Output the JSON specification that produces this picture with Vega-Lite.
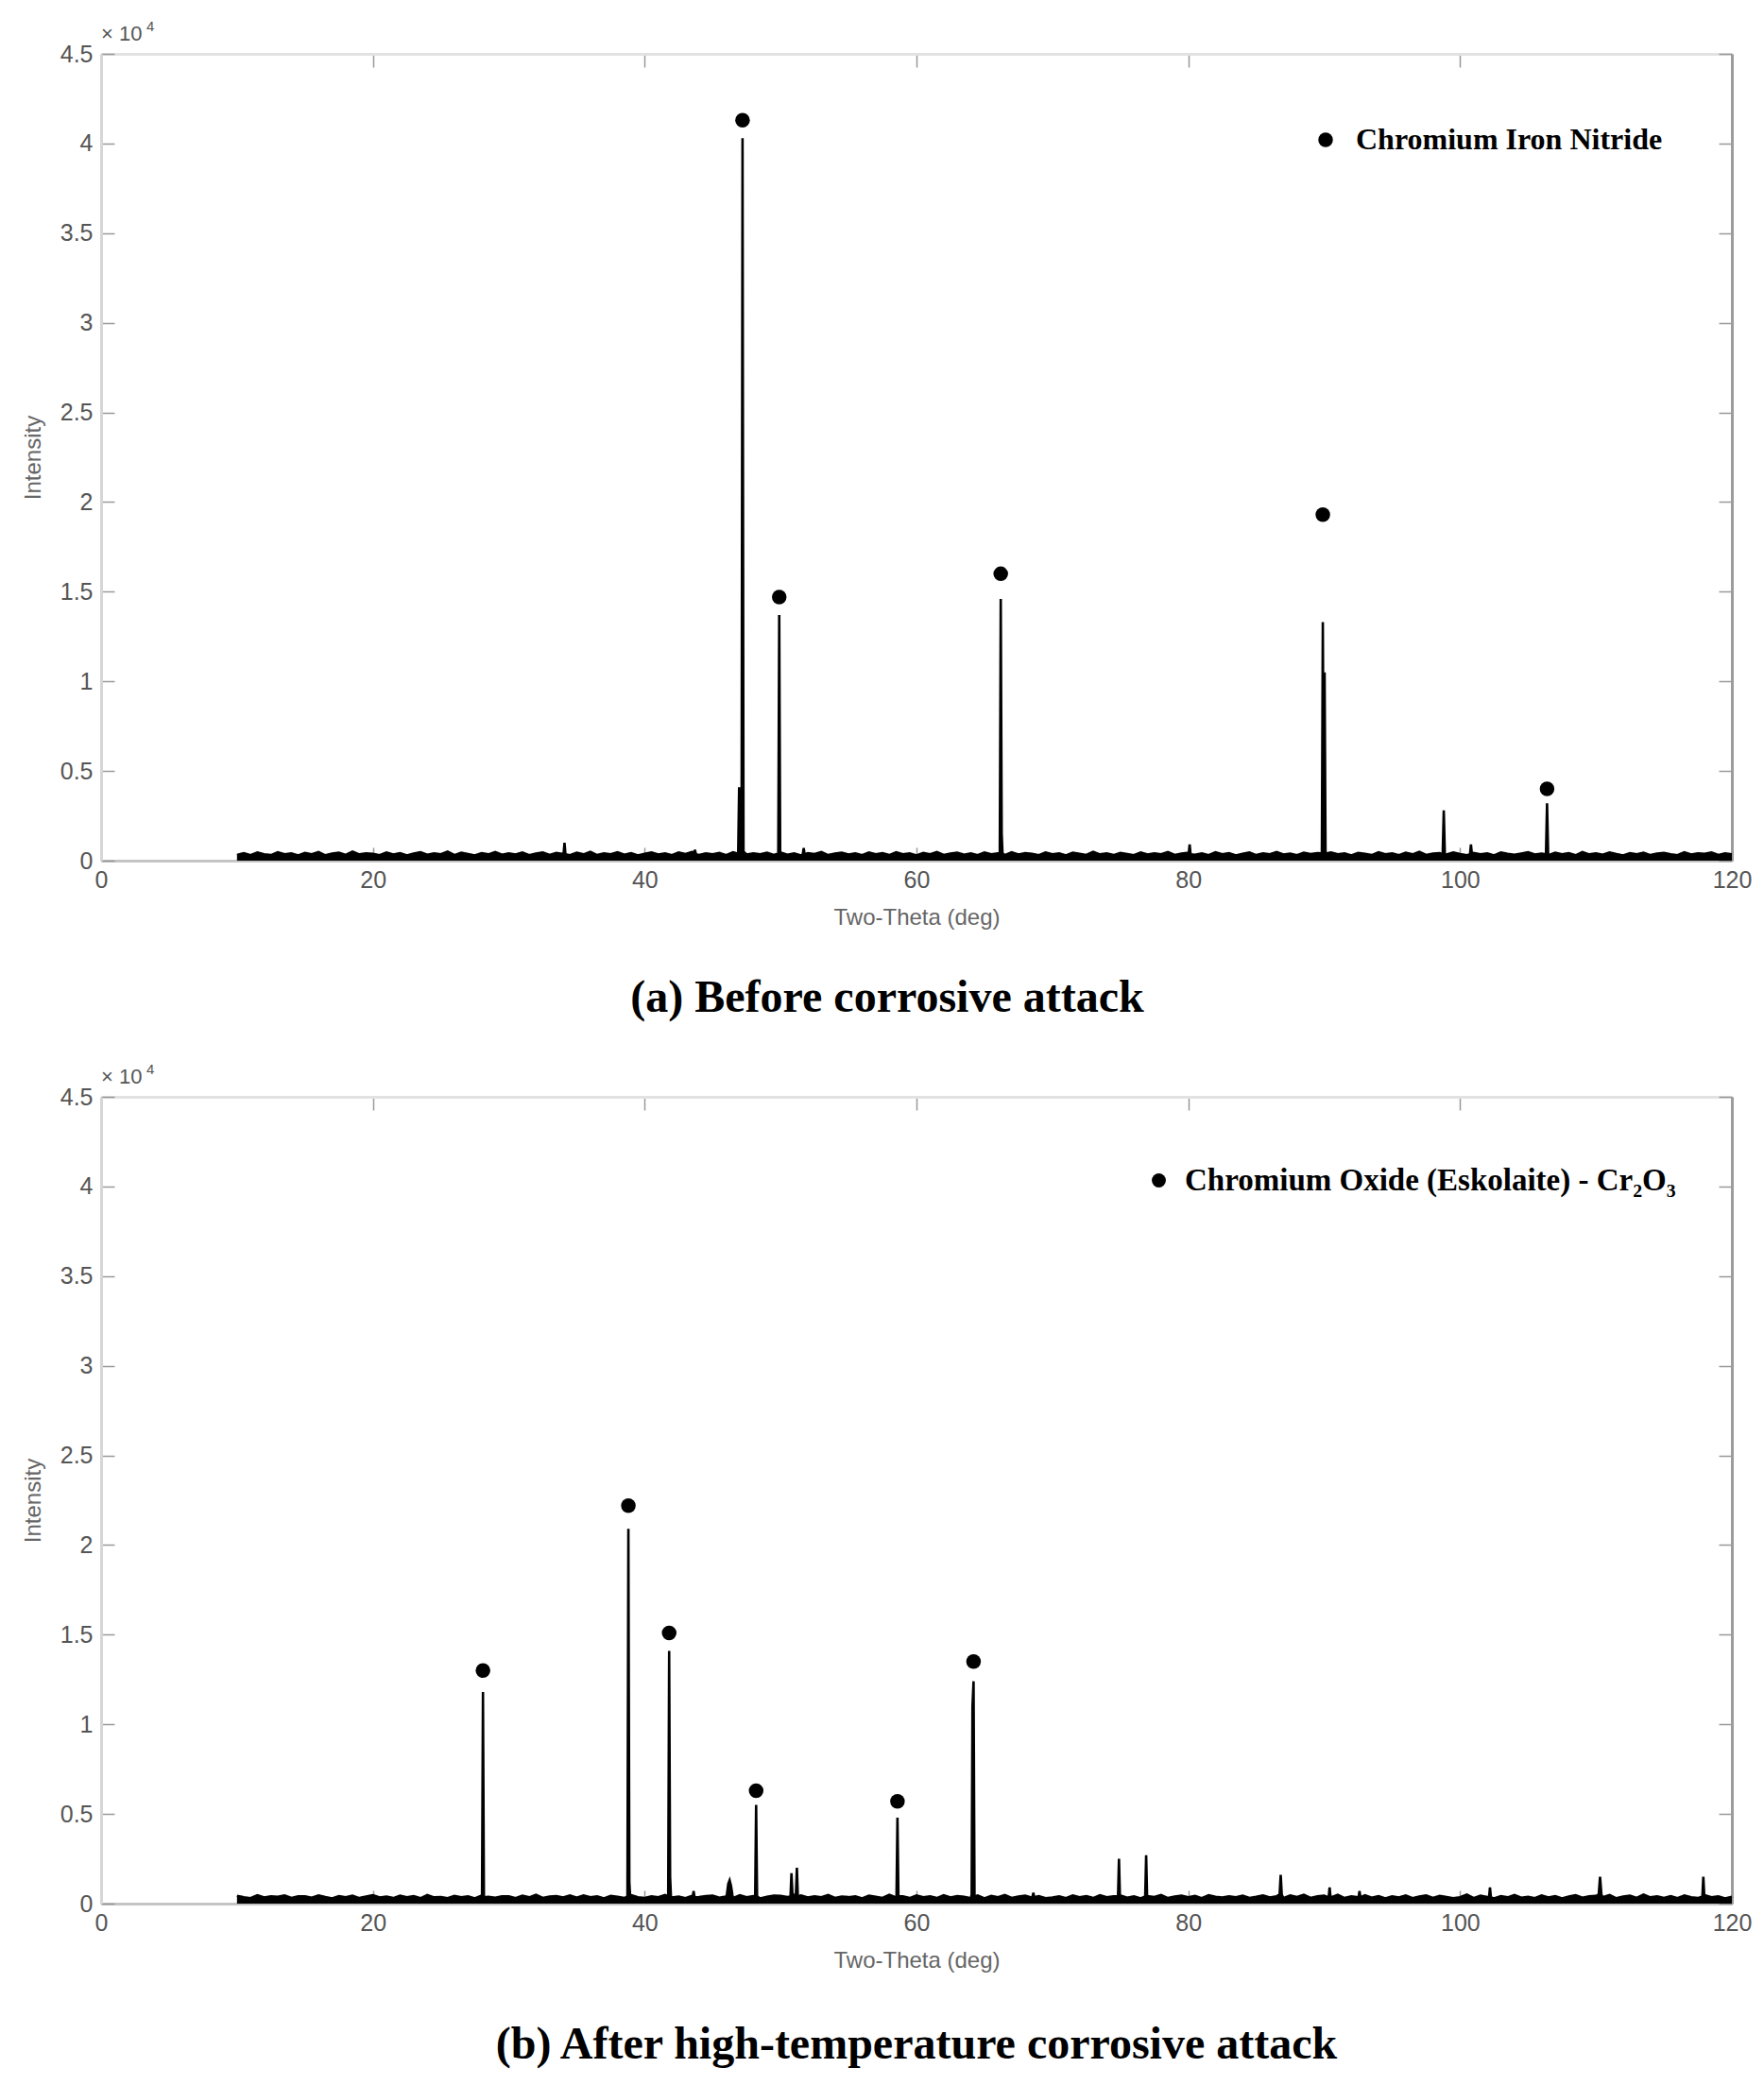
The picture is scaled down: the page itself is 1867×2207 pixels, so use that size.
{
"$schema":"https://vega.github.io/schema/vega-lite/v6.json",
"background":"white",
"padding":{"left":23,"top":21,"right":10,"bottom":10},
"spacing":44,
"config":{"view":{"stroke":null},"axis":{"grid":false}},
"resolve":{"scale":{"x":"independent","y":"independent","shape":"independent"},"legend":{"shape":"independent"}},
"datasets":{
"a_spec":[
{"t":10,"i":320},{"t":10.5,"i":410},{"t":11,"i":300},{"t":11.5,"i":450},{"t":12,"i":360},{"t":12.5,"i":310},{"t":13,"i":470},{"t":13.5,"i":350},{"t":14,"i":400},{"t":14.5,"i":290},
{"t":15,"i":430},{"t":15.5,"i":360},{"t":16,"i":480},{"t":16.5,"i":300},{"t":17,"i":390},{"t":17.5,"i":440},{"t":18,"i":320},{"t":18.5,"i":500},{"t":19,"i":350},{"t":19.5,"i":410},
{"t":20,"i":380},{"t":20.5,"i":300},{"t":21,"i":460},{"t":21.5,"i":340},{"t":22,"i":420},{"t":22.5,"i":290},{"t":23,"i":390},{"t":23.5,"i":470},{"t":24,"i":330},{"t":24.5,"i":400},
{"t":25,"i":360},{"t":25.5,"i":510},{"t":26,"i":310},{"t":26.5,"i":440},{"t":27,"i":370},{"t":27.5,"i":290},{"t":28,"i":420},{"t":28.5,"i":350},{"t":29,"i":480},{"t":29.5,"i":330},
{"t":30,"i":410},{"t":30.5,"i":340},{"t":31,"i":450},{"t":31.5,"i":300},{"t":32,"i":390},{"t":32.5,"i":460},{"t":33,"i":320},{"t":33.5,"i":430},{"t":34,"i":370},{"t":34.5,"i":300},
{"t":35,"i":440},{"t":35.5,"i":350},{"t":36,"i":490},{"t":36.5,"i":310},{"t":37,"i":400},{"t":37.5,"i":360},{"t":38,"i":470},{"t":38.5,"i":330},{"t":39,"i":420},{"t":39.5,"i":290},
{"t":40,"i":380},{"t":40.5,"i":460},{"t":41,"i":340},{"t":41.5,"i":410},{"t":42,"i":300},{"t":42.5,"i":450},{"t":43,"i":370},{"t":43.5,"i":490},{"t":44,"i":320},{"t":44.5,"i":400},
{"t":45,"i":350},{"t":45.5,"i":430},{"t":46,"i":300},{"t":46.5,"i":470},{"t":47,"i":380},{"t":47.5,"i":340},{"t":48,"i":410},{"t":48.5,"i":360},{"t":49,"i":440},{"t":49.5,"i":320},
{"t":50,"i":460},{"t":50.5,"i":330},{"t":51,"i":400},{"t":51.5,"i":290},{"t":52,"i":420},{"t":52.5,"i":370},{"t":53,"i":480},{"t":53.5,"i":310},{"t":54,"i":390},{"t":54.5,"i":440},
{"t":55,"i":340},{"t":55.5,"i":410},{"t":56,"i":300},{"t":56.5,"i":450},{"t":57,"i":360},{"t":57.5,"i":420},{"t":58,"i":310},{"t":58.5,"i":470},{"t":59,"i":350},{"t":59.5,"i":400},
{"t":60,"i":290},{"t":60.5,"i":430},{"t":61,"i":360},{"t":61.5,"i":480},{"t":62,"i":320},{"t":62.5,"i":390},{"t":63,"i":440},{"t":63.5,"i":330},{"t":64,"i":410},{"t":64.5,"i":300},
{"t":65,"i":460},{"t":65.5,"i":350},{"t":66,"i":400},{"t":66.5,"i":310},{"t":67,"i":470},{"t":67.5,"i":340},{"t":68,"i":420},{"t":68.5,"i":380},{"t":69,"i":300},{"t":69.5,"i":450},
{"t":70,"i":360},{"t":70.5,"i":410},{"t":71,"i":290},{"t":71.5,"i":440},{"t":72,"i":380},{"t":72.5,"i":320},{"t":73,"i":490},{"t":73.5,"i":350},{"t":74,"i":400},{"t":74.5,"i":310},
{"t":75,"i":430},{"t":75.5,"i":370},{"t":76,"i":300},{"t":76.5,"i":460},{"t":77,"i":340},{"t":77.5,"i":410},{"t":78,"i":360},{"t":78.5,"i":480},{"t":79,"i":320},{"t":79.5,"i":390},
{"t":80,"i":440},{"t":80.5,"i":330},{"t":81,"i":400},{"t":81.5,"i":300},{"t":82,"i":470},{"t":82.5,"i":350},{"t":83,"i":420},{"t":83.5,"i":290},{"t":84,"i":380},{"t":84.5,"i":450},
{"t":85,"i":310},{"t":85.5,"i":410},{"t":86,"i":360},{"t":86.5,"i":480},{"t":87,"i":340},{"t":87.5,"i":390},{"t":88,"i":300},{"t":88.5,"i":440},{"t":89,"i":370},{"t":89.5,"i":420},
{"t":90,"i":330},{"t":90.5,"i":460},{"t":91,"i":350},{"t":91.5,"i":400},{"t":92,"i":290},{"t":92.5,"i":430},{"t":93,"i":380},{"t":93.5,"i":310},{"t":94,"i":470},{"t":94.5,"i":360},
{"t":95,"i":410},{"t":95.5,"i":300},{"t":96,"i":440},{"t":96.5,"i":350},{"t":97,"i":490},{"t":97.5,"i":320},{"t":98,"i":390},{"t":98.5,"i":420},{"t":99,"i":340},{"t":99.5,"i":460},
{"t":100,"i":370},{"t":100.5,"i":300},{"t":101,"i":430},{"t":101.5,"i":360},{"t":102,"i":410},{"t":102.5,"i":290},{"t":103,"i":450},{"t":103.5,"i":380},{"t":104,"i":330},{"t":104.5,"i":400},
{"t":105,"i":470},{"t":105.5,"i":340},{"t":106,"i":390},{"t":106.5,"i":310},{"t":107,"i":440},{"t":107.5,"i":360},{"t":108,"i":420},{"t":108.5,"i":300},{"t":109,"i":480},{"t":109.5,"i":350},
{"t":110,"i":400},{"t":110.5,"i":330},{"t":111,"i":460},{"t":111.5,"i":370},{"t":112,"i":290},{"t":112.5,"i":420},{"t":113,"i":350},{"t":113.5,"i":440},{"t":114,"i":310},{"t":114.5,"i":390},
{"t":115,"i":430},{"t":115.5,"i":360},{"t":116,"i":300},{"t":116.5,"i":470},{"t":117,"i":340},{"t":117.5,"i":410},{"t":118,"i":380},{"t":118.5,"i":450},{"t":119,"i":320},{"t":119.5,"i":400},
{"t":120,"i":360},
{"t":34.03,"i":350},{"t":34.1,"i":1000},{"t":34.17,"i":350},
{"t":43.63,"i":350},{"t":43.7,"i":600},{"t":43.77,"i":350},
{"t":46.88,"i":380},{"t":46.95,"i":4100},{"t":47.02,"i":700},
{"t":47.13,"i":900},{"t":47.2,"i":40300},{"t":47.27,"i":500},
{"t":49.83,"i":400},{"t":49.9,"i":13700},{"t":49.97,"i":400},
{"t":51.63,"i":350},{"t":51.7,"i":700},{"t":51.77,"i":350},
{"t":66.13,"i":400},{"t":66.2,"i":14600},{"t":66.27,"i":1500},{"t":66.33,"i":400},
{"t":80.03,"i":350},{"t":80.1,"i":900},{"t":80.17,"i":350},
{"t":89.83,"i":400},{"t":89.9,"i":13300},{"t":89.97,"i":2000},{"t":90.03,"i":10500},{"t":90.1,"i":400},
{"t":98.72,"i":350},{"t":98.8,"i":2800},{"t":98.88,"i":350},
{"t":100.73,"i":350},{"t":100.8,"i":900},{"t":100.87,"i":350},
{"t":106.32,"i":350},{"t":106.4,"i":3200},{"t":106.48,"i":350}
],
"a_pk":[
{"t":47.2,"i":41300,"phase":"Chromium Iron Nitride"},
{"t":49.9,"i":14700,"phase":"Chromium Iron Nitride"},
{"t":66.2,"i":16000,"phase":"Chromium Iron Nitride"},
{"t":89.9,"i":19300,"phase":"Chromium Iron Nitride"},
{"t":106.4,"i":4000,"phase":"Chromium Iron Nitride"}
],
"b_spec":[
{"t":10,"i":430},{"t":10.5,"i":360},{"t":11,"i":300},{"t":11.5,"i":470},{"t":12,"i":340},{"t":12.5,"i":410},{"t":13,"i":380},{"t":13.5,"i":450},{"t":14,"i":320},{"t":14.5,"i":400},
{"t":15,"i":400},{"t":15.5,"i":330},{"t":16,"i":460},{"t":16.5,"i":370},{"t":17,"i":290},{"t":17.5,"i":420},{"t":18,"i":350},{"t":18.5,"i":440},{"t":19,"i":310},{"t":19.5,"i":390},
{"t":20,"i":470},{"t":20.5,"i":340},{"t":21,"i":390},{"t":21.5,"i":310},{"t":22,"i":440},{"t":22.5,"i":360},{"t":23,"i":420},{"t":23.5,"i":300},{"t":24,"i":480},{"t":24.5,"i":350},
{"t":25,"i":370},{"t":25.5,"i":300},{"t":26,"i":430},{"t":26.5,"i":360},{"t":27,"i":410},{"t":27.5,"i":290},{"t":28,"i":450},{"t":28.5,"i":380},{"t":29,"i":330},{"t":29.5,"i":400},
{"t":30,"i":410},{"t":30.5,"i":300},{"t":31,"i":440},{"t":31.5,"i":350},{"t":32,"i":490},{"t":32.5,"i":320},{"t":33,"i":390},{"t":33.5,"i":420},{"t":34,"i":340},{"t":34.5,"i":460},
{"t":35,"i":330},{"t":35.5,"i":460},{"t":36,"i":350},{"t":36.5,"i":400},{"t":37,"i":290},{"t":37.5,"i":430},{"t":38,"i":380},{"t":38.5,"i":310},{"t":39,"i":470},{"t":39.5,"i":360},
{"t":40,"i":310},{"t":40.5,"i":410},{"t":41,"i":360},{"t":41.5,"i":480},{"t":42,"i":340},{"t":42.5,"i":390},{"t":43,"i":300},{"t":43.5,"i":440},{"t":44,"i":370},{"t":44.5,"i":420},
{"t":45,"i":440},{"t":45.5,"i":330},{"t":46,"i":400},{"t":46.5,"i":300},{"t":47,"i":470},{"t":47.5,"i":350},{"t":48,"i":420},{"t":48.5,"i":290},{"t":49,"i":380},{"t":49.5,"i":450},
{"t":50,"i":430},{"t":50.5,"i":370},{"t":51,"i":300},{"t":51.5,"i":460},{"t":52,"i":340},{"t":52.5,"i":410},{"t":53,"i":360},{"t":53.5,"i":480},{"t":54,"i":320},{"t":54.5,"i":390},
{"t":55,"i":360},{"t":55.5,"i":410},{"t":56,"i":290},{"t":56.5,"i":440},{"t":57,"i":380},{"t":57.5,"i":320},{"t":58,"i":490},{"t":58.5,"i":350},{"t":59,"i":400},{"t":59.5,"i":310},
{"t":60,"i":460},{"t":60.5,"i":350},{"t":61,"i":400},{"t":61.5,"i":310},{"t":62,"i":470},{"t":62.5,"i":340},{"t":63,"i":420},{"t":63.5,"i":380},{"t":64,"i":300},{"t":64.5,"i":450},
{"t":65,"i":290},{"t":65.5,"i":430},{"t":66,"i":360},{"t":66.5,"i":480},{"t":67,"i":320},{"t":67.5,"i":390},{"t":68,"i":440},{"t":68.5,"i":330},{"t":69,"i":410},{"t":69.5,"i":300},
{"t":70,"i":340},{"t":70.5,"i":410},{"t":71,"i":300},{"t":71.5,"i":450},{"t":72,"i":360},{"t":72.5,"i":420},{"t":73,"i":310},{"t":73.5,"i":470},{"t":74,"i":350},{"t":74.5,"i":400},
{"t":75,"i":460},{"t":75.5,"i":330},{"t":76,"i":400},{"t":76.5,"i":290},{"t":77,"i":420},{"t":77.5,"i":370},{"t":78,"i":480},{"t":78.5,"i":310},{"t":79,"i":390},{"t":79.5,"i":440},
{"t":80,"i":350},{"t":80.5,"i":430},{"t":81,"i":300},{"t":81.5,"i":470},{"t":82,"i":380},{"t":82.5,"i":340},{"t":83,"i":410},{"t":83.5,"i":360},{"t":84,"i":440},{"t":84.5,"i":320},
{"t":85,"i":380},{"t":85.5,"i":460},{"t":86,"i":340},{"t":86.5,"i":410},{"t":87,"i":300},{"t":87.5,"i":450},{"t":88,"i":370},{"t":88.5,"i":490},{"t":89,"i":320},{"t":89.5,"i":400},
{"t":90,"i":440},{"t":90.5,"i":350},{"t":91,"i":490},{"t":91.5,"i":310},{"t":92,"i":400},{"t":92.5,"i":360},{"t":93,"i":470},{"t":93.5,"i":330},{"t":94,"i":420},{"t":94.5,"i":290},
{"t":95,"i":410},{"t":95.5,"i":340},{"t":96,"i":450},{"t":96.5,"i":300},{"t":97,"i":390},{"t":97.5,"i":460},{"t":98,"i":320},{"t":98.5,"i":430},{"t":99,"i":370},{"t":99.5,"i":300},
{"t":100,"i":360},{"t":100.5,"i":510},{"t":101,"i":310},{"t":101.5,"i":440},{"t":102,"i":370},{"t":102.5,"i":290},{"t":103,"i":420},{"t":103.5,"i":350},{"t":104,"i":480},{"t":104.5,"i":330},
{"t":105,"i":380},{"t":105.5,"i":300},{"t":106,"i":460},{"t":106.5,"i":340},{"t":107,"i":420},{"t":107.5,"i":290},{"t":108,"i":390},{"t":108.5,"i":470},{"t":109,"i":330},{"t":109.5,"i":400},
{"t":110,"i":430},{"t":110.5,"i":360},{"t":111,"i":480},{"t":111.5,"i":300},{"t":112,"i":390},{"t":112.5,"i":440},{"t":113,"i":320},{"t":113.5,"i":500},{"t":114,"i":350},{"t":114.5,"i":410},
{"t":115,"i":320},{"t":115.5,"i":410},{"t":116,"i":300},{"t":116.5,"i":450},{"t":117,"i":360},{"t":117.5,"i":310},{"t":118,"i":470},{"t":118.5,"i":350},{"t":119,"i":400},{"t":119.5,"i":290},
{"t":120,"i":380},
{"t":28.03,"i":350},{"t":28.1,"i":11800},{"t":28.17,"i":350},
{"t":38.73,"i":400},{"t":38.8,"i":20900},{"t":38.87,"i":1200},{"t":38.93,"i":400},
{"t":41.73,"i":400},{"t":41.8,"i":14100},{"t":41.87,"i":1500},{"t":41.93,"i":400},
{"t":43.53,"i":350},{"t":43.6,"i":700},{"t":43.67,"i":350},
{"t":46.05,"i":500},{"t":46.15,"i":1100},{"t":46.25,"i":1300},{"t":46.35,"i":1000},{"t":46.45,"i":500},
{"t":48.13,"i":400},{"t":48.2,"i":5500},{"t":48.27,"i":400},
{"t":50.73,"i":400},{"t":50.8,"i":1700},{"t":50.87,"i":600},
{"t":51.13,"i":600},{"t":51.2,"i":2000},{"t":51.27,"i":400},
{"t":58.53,"i":400},{"t":58.6,"i":4800},{"t":58.67,"i":400},
{"t":64.06,"i":500},{"t":64.12,"i":11000},{"t":64.2,"i":12400},{"t":64.27,"i":400},
{"t":68.53,"i":350},{"t":68.6,"i":600},{"t":68.67,"i":350},
{"t":74.83,"i":400},{"t":74.9,"i":2500},{"t":74.97,"i":400},
{"t":76.83,"i":400},{"t":76.9,"i":2700},{"t":76.97,"i":400},
{"t":86.72,"i":500},{"t":86.8,"i":1600},{"t":86.88,"i":500},
{"t":90.33,"i":350},{"t":90.4,"i":900},{"t":90.47,"i":350},
{"t":92.53,"i":350},{"t":92.6,"i":700},{"t":92.67,"i":350},
{"t":102.13,"i":350},{"t":102.2,"i":900},{"t":102.27,"i":350},
{"t":110.2,"i":500},{"t":110.3,"i":1500},{"t":110.4,"i":500},
{"t":117.83,"i":400},{"t":117.9,"i":1500},{"t":117.97,"i":400}
],
"b_pk":[
{"t":28.1,"i":13000,"phase":"Chromium Oxide (Eskolaite) - Cr₂O₃"},
{"t":38.8,"i":22200,"phase":"Chromium Oxide (Eskolaite) - Cr₂O₃"},
{"t":41.8,"i":15100,"phase":"Chromium Oxide (Eskolaite) - Cr₂O₃"},
{"t":48.2,"i":6300,"phase":"Chromium Oxide (Eskolaite) - Cr₂O₃"},
{"t":58.6,"i":5700,"phase":"Chromium Oxide (Eskolaite) - Cr₂O₃"},
{"t":64.2,"i":13500,"phase":"Chromium Oxide (Eskolaite) - Cr₂O₃"}
],
"mult":[{"s":"× 10","e":"4"}]
},
"vconcat":[
{
"width":1726,"height":854,
"title":{"text":"(a) Before corrosive attack","orient":"bottom","anchor":"middle","font":"Liberation Serif","fontSize":48,"fontWeight":"bold","color":"#000","offset":50,"dx":-31},
"resolve":{"axis":{"x":"independent","y":"independent"}},
"layer":[
{"data":{"name":"a_spec"},"mark":{"type":"area","color":"#000"},
"encoding":{
"x":{"field":"t","type":"quantitative","scale":{"domain":[0,120],"nice":false,"zero":false},
"axis":{"orient":"bottom","values":[0,20,40,60,80,100,120],"title":"Two-Theta (deg)","tickSize":-14,"labelPadding":22,"domainColor":"#c4c4c4","domainWidth":3,"tickColor":"#999","tickWidth":1.5,"labelFont":"Liberation Sans","labelFontSize":25,"labelColor":"#555","labelFlush":false,"titleFont":"Liberation Sans","titleFontSize":24,"titleFontWeight":"normal","titleColor":"#666","titlePadding":15}},
"y":{"field":"i","type":"quantitative","scale":{"domain":[0,45000],"nice":false},
"axis":{"orient":"left","values":[0,5000,10000,15000,20000,25000,30000,35000,40000,45000],"labelExpr":"'' + datum.value/10000","title":"Intensity","tickSize":-14,"labelPadding":23,"domainColor":"#d6d6d6","domainWidth":3,"tickColor":"#999","tickWidth":1.5,"labelFont":"Liberation Sans","labelFontSize":25,"labelColor":"#555","labelFlush":false,"titleFont":"Liberation Sans","titleFontSize":24,"titleFontWeight":"normal","titleColor":"#666","titlePadding":16}}}},
{"data":{"name":"a_spec"},"mark":{"type":"line","color":"#000","strokeWidth":2.6},
"encoding":{
"x":{"field":"t","type":"quantitative","axis":{"orient":"top","values":[0,20,40,60,80,100,120],"labels":false,"title":null,"tickSize":-14,"domainColor":"#e2e2e2","domainWidth":3,"tickColor":"#999","tickWidth":1.5}},
"y":{"field":"i","type":"quantitative","axis":{"orient":"right","values":[0,5000,10000,15000,20000,25000,30000,35000,40000,45000],"labels":false,"title":null,"tickSize":-14,"domainColor":"#9c9c9c","domainWidth":3,"tickColor":"#999","tickWidth":1.5}}}},
{"data":{"name":"a_pk"},"mark":{"type":"point","filled":true,"color":"#000","size":240,"opacity":1},
"encoding":{
"x":{"field":"t","type":"quantitative","axis":null},
"y":{"field":"i","type":"quantitative","axis":null},
"shape":{"field":"phase","type":"nominal","scale":{"range":["circle"]},
"legend":{"title":null,"orient":"none","legendX":1280,"legendY":75,"padding":0,"labelFont":"Liberation Serif","labelFontWeight":"bold","labelFontSize":32,"labelColor":"#000","labelLimit":1000,"labelOffset":16,"symbolSize":240,"symbolType":"circle","symbolFillColor":"#000","symbolStrokeColor":"#000"}}}},
{"data":{"name":"mult"},"mark":{"type":"text","align":"left","baseline":"alphabetic","dy":-14,"font":"Liberation Sans","fontSize":22,"color":"#555"},
"encoding":{"x":{"datum":0,"type":"quantitative","axis":null},"y":{"datum":45000,"type":"quantitative","axis":null},"text":{"field":"s"}}},
{"data":{"name":"mult"},"mark":{"type":"text","align":"left","baseline":"alphabetic","dx":48,"dy":-24,"font":"Liberation Sans","fontSize":15,"color":"#555"},
"encoding":{"x":{"datum":0,"type":"quantitative","axis":null},"y":{"datum":45000,"type":"quantitative","axis":null},"text":{"field":"e"}}}
]
},
{
"width":1726,"height":854,
"title":{"text":"(b) After high-temperature corrosive attack","orient":"bottom","anchor":"middle","font":"Liberation Serif","fontSize":48,"fontWeight":"bold","color":"#000","offset":54},
"resolve":{"axis":{"x":"independent","y":"independent"}},
"layer":[
{"data":{"name":"b_spec"},"mark":{"type":"area","color":"#000"},
"encoding":{
"x":{"field":"t","type":"quantitative","scale":{"domain":[0,120],"nice":false,"zero":false},
"axis":{"orient":"bottom","values":[0,20,40,60,80,100,120],"title":"Two-Theta (deg)","tickSize":-14,"labelPadding":22,"domainColor":"#c4c4c4","domainWidth":3,"tickColor":"#999","tickWidth":1.5,"labelFont":"Liberation Sans","labelFontSize":25,"labelColor":"#555","labelFlush":false,"titleFont":"Liberation Sans","titleFontSize":24,"titleFontWeight":"normal","titleColor":"#666","titlePadding":15}},
"y":{"field":"i","type":"quantitative","scale":{"domain":[0,45000],"nice":false},
"axis":{"orient":"left","values":[0,5000,10000,15000,20000,25000,30000,35000,40000,45000],"labelExpr":"'' + datum.value/10000","title":"Intensity","tickSize":-14,"labelPadding":23,"domainColor":"#d6d6d6","domainWidth":3,"tickColor":"#999","tickWidth":1.5,"labelFont":"Liberation Sans","labelFontSize":25,"labelColor":"#555","labelFlush":false,"titleFont":"Liberation Sans","titleFontSize":24,"titleFontWeight":"normal","titleColor":"#666","titlePadding":16}}}},
{"data":{"name":"b_spec"},"mark":{"type":"line","color":"#000","strokeWidth":2.6},
"encoding":{
"x":{"field":"t","type":"quantitative","axis":{"orient":"top","values":[0,20,40,60,80,100,120],"labels":false,"title":null,"tickSize":-14,"domainColor":"#e2e2e2","domainWidth":3,"tickColor":"#999","tickWidth":1.5}},
"y":{"field":"i","type":"quantitative","axis":{"orient":"right","values":[0,5000,10000,15000,20000,25000,30000,35000,40000,45000],"labels":false,"title":null,"tickSize":-14,"domainColor":"#9c9c9c","domainWidth":3,"tickColor":"#999","tickWidth":1.5}}}},
{"data":{"name":"b_pk"},"mark":{"type":"point","filled":true,"color":"#000","size":240,"opacity":1},
"encoding":{
"x":{"field":"t","type":"quantitative","axis":null},
"y":{"field":"i","type":"quantitative","axis":null},
"shape":{"field":"phase","type":"nominal","scale":{"range":["circle"]},
"legend":{"title":null,"orient":"none","legendX":1103,"legendY":72,"padding":0,"labelFont":"Liberation Serif","labelFontWeight":"bold","labelFontSize":33,"labelColor":"#000","labelLimit":1000,"labelOffset":11,"symbolSize":220,"symbolType":"circle","symbolFillColor":"#000","symbolStrokeColor":"#000"}}}},
{"data":{"name":"mult"},"mark":{"type":"text","align":"left","baseline":"alphabetic","dy":-14,"font":"Liberation Sans","fontSize":22,"color":"#555"},
"encoding":{"x":{"datum":0,"type":"quantitative","axis":null},"y":{"datum":45000,"type":"quantitative","axis":null},"text":{"field":"s"}}},
{"data":{"name":"mult"},"mark":{"type":"text","align":"left","baseline":"alphabetic","dx":48,"dy":-24,"font":"Liberation Sans","fontSize":15,"color":"#555"},
"encoding":{"x":{"datum":0,"type":"quantitative","axis":null},"y":{"datum":45000,"type":"quantitative","axis":null},"text":{"field":"e"}}}
]
}
]
}
